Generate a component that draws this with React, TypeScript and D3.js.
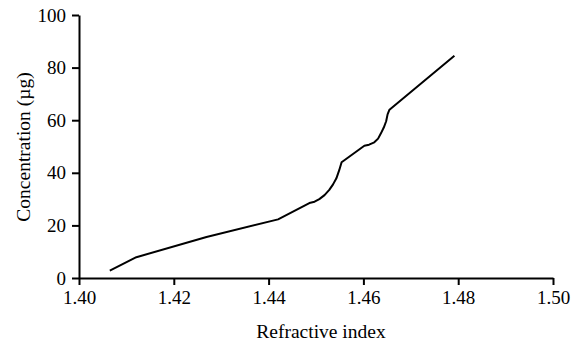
import React, { useEffect, useRef } from "react";
import * as d3 from "d3";

const refIndex = [
  1.4065, 1.4121, 1.4269, 1.442, 1.4486, 1.4497, 1.4507, 1.4518, 1.4528, 1.4536,
  1.4543, 1.4549, 1.4554, 1.4602, 1.4612, 1.4623, 1.4631, 1.4637, 1.4643, 1.4648,
  1.4651, 1.4655, 1.4792,
];
const concentration = [
  2.8, 7.9, 15.6, 22.3, 28.5, 29.0, 30.0, 31.5, 33.5, 35.6,
  37.9, 41.0, 44.0, 50.3, 50.7, 51.6, 53.0, 55.0, 57.2, 59.6,
  62.2, 64.0, 84.5,
];
const xTicks = [1.4, 1.42, 1.44, 1.46, 1.48, 1.5];
const yTicks = [0, 20, 40, 60, 80, 100];

const App = () => {
  const svgRef = useRef<SVGSVGElement>(null);
  const width = 579;
  const height = 347;
  const margin = { top: 15, right: 26, bottom: 69, left: 79 };

  useEffect(() => {
    const svg = d3.select(svgRef.current);
    svg.selectAll("*").remove();

    const x = d3.scaleLinear().domain([1.4, 1.5]).range([margin.left, width - margin.right]);
    const y = d3.scaleLinear().domain([0, 100]).range([height - margin.bottom, margin.top]);

    const font = "'Liberation Serif', 'Times New Roman', serif";

    const xAxis = d3
      .axisBottom(x)
      .tickValues(xTicks)
      .tickFormat(d3.format(".2f"))
      .tickSize(7)
      .tickSizeOuter(0)
      .tickPadding(6);

    const yAxis = d3
      .axisLeft(y)
      .tickValues(yTicks)
      .tickFormat(d3.format("d"))
      .tickSize(7)
      .tickSizeOuter(0)
      .tickPadding(6);

    const gx = svg
      .append("g")
      .attr("transform", `translate(0, ${height - margin.bottom})`)
      .call(xAxis);

    const gy = svg
      .append("g")
      .attr("transform", `translate(${margin.left}, 0)`)
      .call(yAxis);

    [gx, gy].forEach((g) => {
      g.selectAll("path, line").attr("stroke", "#000").attr("stroke-width", 2);
      g.selectAll("text")
        .attr("fill", "#000")
        .style("font-family", font)
        .style("font-size", "19px");
    });

    // smooth bits are carried by the dense points
    const pts = refIndex.map((r, i) => [r, concentration[i]] as [number, number]);
    const line = d3
      .line<[number, number]>()
      .x((d) => x(d[0]))
      .y((d) => y(d[1]));

    svg
      .append("path")
      .datum(pts)
      .attr("d", line)
      .attr("fill", "none")
      .attr("stroke", "#000")
      .attr("stroke-width", 2)
      .attr("stroke-linejoin", "round");

    svg
      .append("text")
      .attr("x", 321)
      .attr("y", 338)
      .attr("text-anchor", "middle")
      .style("font-family", font)
      .style("font-size", "19.5px")
      .text("Refractive index");

    svg
      .append("text")
      .attr("transform", `translate(30, 147) rotate(-90)`)
      .attr("text-anchor", "middle")
      .style("font-family", font)
      .style("font-size", "19.5px")
      .text("Concentration (µg)");
  }, []);

  return (
    <svg
      ref={svgRef}
      width={width}
      height={height}
      style={{ position: "absolute", left: 0, top: 0, background: "#fff" }}
    />
  );
};

export default App;
